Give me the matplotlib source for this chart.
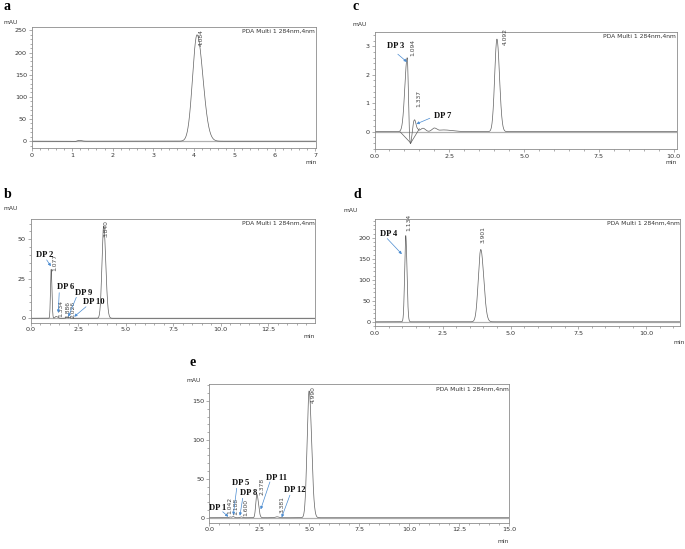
import numpy as np
import matplotlib
matplotlib.use("Agg")
import matplotlib.pyplot as plt
from matplotlib.ticker import MultipleLocator, FormatStrFormatter

W, H = 685, 549

# ---------------- data ----------------
# panel a
a_rt = [1.05, 1.17, 4.084]
a_h = [-1.2, 2.0, 240.0]
a_sl = [0.05, 0.05, 0.11]
a_sr = [0.05, 0.06, 0.145]
a_labels = ["4.084"]

# panel b
b_rt = [1.077, 1.334, 1.886, 2.026, 3.840]
b_h = [31.0, 1.2, 0.5, 0.5, 58.5]
b_sl = [0.035, 0.05, 0.05, 0.05, 0.09]
b_sr = [0.04, 0.08, 0.05, 0.05, 0.11]
b_labels = ["1.077", "1.334", "1.886", "2.026", "3.840"]

# panel c
c_rt = [1.094, 1.20, 1.337, 1.45, 1.62, 2.0, 2.3, 4.092]
c_h = [2.6, -0.48, 0.42, 0.05, 0.12, 0.12, 0.06, 3.25]
c_sl = [0.08, 0.035, 0.06, 0.03, 0.08, 0.08, 0.15, 0.075]
c_sr = [0.035, 0.045, 0.05, 0.03, 0.08, 0.08, 0.3, 0.085]
c_labels = ["1.094", "1.337", "4.092"]
c_base_x = [0.85, 1.21, 1.50]
c_base_y = [0.0, -0.40, 0.10]

# panel d
d_rt = [1.134, 3.901]
d_h = [205.0, 172.0]
d_sl = [0.04, 0.09]
d_sr = [0.045, 0.11]
d_labels = ["1.134", "3.901"]

# panel e
e_rt = [1.042, 1.188, 1.600, 2.378, 3.381, 4.990]
e_h = [1.0, 1.5, 1.0, 30.0, 1.2, 163.0]
e_sl = [0.04, 0.04, 0.05, 0.055, 0.08, 0.10]
e_sr = [0.05, 0.05, 0.06, 0.08, 0.1, 0.125]
e_labels = ["1.042", "1.188", "1.600", "2.378", "3.381", "4.990"]

TRACE = "#606060"
SPINE = "#8c8c8c"
BLUE = "#4a8bd0"
TXT = "#333333"


def trace(t, rt, h, sl, sr):
    y = np.zeros_like(t)
    for r, hh, s1, s2 in zip(rt, h, sl, sr):
        s = np.where(t < r, s1, s2)
        y += hh * np.exp(-0.5 * ((t - r) / s) ** 2)
    return y


def fr(x0, y0, x1, y1):
    return [x0 / W, 1 - y1 / H, (x1 - x0) / W, (y1 - y0) / H]


fig = plt.figure(figsize=(W / 100, H / 100), dpi=100)
fig.patch.set_facecolor("white")


def make_ax(box, xlim, ylim, xmaj, xmin, ymaj, ymin, xfmt):
    ax = fig.add_axes(fr(*box))
    ax.set_xlim(*xlim)
    ax.set_ylim(*ylim)
    ax.xaxis.set_major_locator(MultipleLocator(xmaj))
    ax.xaxis.set_minor_locator(MultipleLocator(xmin))
    ax.yaxis.set_major_locator(MultipleLocator(ymaj))
    ax.yaxis.set_minor_locator(MultipleLocator(ymin))
    ax.xaxis.set_major_formatter(FormatStrFormatter(xfmt))
    ax.yaxis.set_major_formatter(FormatStrFormatter("%d"))
    for s in ax.spines.values():
        s.set_color(SPINE)
        s.set_linewidth(0.6)
    ax.tick_params(which="both", direction="out", color=SPINE, width=0.5,
                   labelsize=4.6, labelcolor=TXT, pad=1.2)
    ax.tick_params(which="major", length=2.2)
    ax.tick_params(which="minor", length=1.3)
    ax.text(0.998, 0.985, "PDA Multi 1 284nm,4nm", transform=ax.transAxes,
            ha="right", va="top", fontsize=4.3, color=TXT)
    return ax


def plot_trace(ax, rt, h, sl, sr, xmax):
    t = np.linspace(0, xmax, 4000)
    ax.axhline(0, color="#b0b0b0", lw=0.9, zorder=1)
    ax.plot(t, trace(t, rt, h, sl, sr), color=TRACE, lw=0.5, zorder=2)


def peak_label(ax, x, y, s):
    ax.text(x, y, s, rotation=90, ha="center", va="center", fontsize=4.3,
            color="#444444", clip_on=False)


def dp(ax, text_xy, tail, tip, s):
    ax.text(text_xy[0], text_xy[1], s, ha="center", va="center",
            fontsize=6.2, fontweight="bold", family="Liberation Serif",
            color="#111111")
    ax.annotate("", xy=tip, xytext=tail,
                arrowprops=dict(arrowstyle="-|>", color=BLUE, lw=0.5,
                                mutation_scale=4, shrinkA=0, shrinkB=0))


def frame_text(letter, lx, ly, mx, my, nx, ny):
    fig.text(lx / W, 1 - ly / H, letter, fontsize=10, fontweight="bold",
             family="Liberation Serif", ha="left", va="center")
    fig.text(mx / W, 1 - my / H, "mAU", fontsize=4.3, color=TXT,
             ha="left", va="center")
    fig.text(nx / W, 1 - ny / H, "min", fontsize=4.3, color=TXT,
             ha="left", va="center")


# ---------------- panel a ----------------
ax = make_ax((31.7, 27.3, 315.5, 148.3), (0, 7.01), (-16, 257), 1, 0.2, 50, 10, "%d")
plot_trace(ax, a_rt, a_h, a_sl, a_sr, 7.01)
peak_label(ax, 4.18, 233, a_labels[0])
frame_text("a", 3, 6, 4, 22.7, 305, 163)

# ---------------- panel c ----------------
ax = make_ax((374.5, 32, 676.7, 149), (0, 10.1), (-0.61, 3.5), 2.5, 0.5, 1, 0.2, "%.1f")
plot_trace(ax, c_rt, c_h, c_sl, c_sr, 10.1)
ax.plot(c_base_x, c_base_y, color=TRACE, lw=0.5, zorder=2)
peak_label(ax, 1.28, 2.96, c_labels[0])
peak_label(ax, 1.49, 1.17, c_labels[1])
peak_label(ax, 4.37, 3.33, c_labels[2])
dp(ax, (0.70, 3.0), (0.78, 2.72), (1.08, 2.45), "DP 3")
dp(ax, (2.28, 0.55), (1.85, 0.47), (1.40, 0.27), "DP 7")
frame_text("c", 353, 6, 353, 24, 665, 163)

# ---------------- panel b ----------------
ax = make_ax((30.7, 219.3, 315, 322.7), (0, 14.96), (-2.8, 62.7), 2.5, 0.5, 25, 5, "%.1f")
plot_trace(ax, b_rt, b_h, b_sl, b_sr, 14.96)
peak_label(ax, 1.25, 35.5, b_labels[0])
peak_label(ax, 1.59, 6.5, b_labels[1])
peak_label(ax, 1.95, 5.3, b_labels[2])
peak_label(ax, 2.21, 5.4, b_labels[3])
peak_label(ax, 3.96, 57.0, b_labels[4])
dp(ax, (0.74, 40.0), (0.84, 37.0), (1.06, 33.0), "DP 2")
dp(ax, (1.85, 19.6), (1.50, 16.2), (1.45, 3.5), "DP 6")
dp(ax, (2.79, 15.8), (2.40, 13.3), (1.98, 1.0), "DP 9")
dp(ax, (3.32, 10.3), (2.91, 7.3), (2.29, 1.0), "DP 10")
frame_text("b", 4, 195, 3.3, 208.3, 303, 336)

# ---------------- panel d ----------------
ax = make_ax((375, 219.3, 680, 326), (0, 11.25), (-10, 243.8), 2.5, 0.5, 50, 10, "%.1f")
plot_trace(ax, d_rt, d_h, d_sl, d_sr, 11.25)
peak_label(ax, 1.23, 236, d_labels[0])
peak_label(ax, 3.99, 207, d_labels[1])
dp(ax, (0.49, 210), (0.45, 198), (0.99, 161), "DP 4")
frame_text("d", 354, 195, 344, 210.7, 673, 342)

# ---------------- panel e ----------------
ax = make_ax((209.3, 384.3, 509.3, 522.7), (0, 15.0), (-6.4, 171.5), 2.5, 0.5, 50, 10, "%.1f")
plot_trace(ax, e_rt, e_h, e_sl, e_sr, 15.0)
peak_label(ax, 1.00, 16.4, e_labels[0])
peak_label(ax, 1.34, 15.0, e_labels[1])
peak_label(ax, 1.84, 13.0, e_labels[2])
peak_label(ax, 2.62, 40.0, e_labels[3])
peak_label(ax, 3.62, 16.4, e_labels[4])
peak_label(ax, 5.20, 158.0, e_labels[5])
dp(ax, (0.41, 12.0), (0.67, 7.7), (0.95, 1.3), "DP 1")
dp(ax, (1.58, 44.0), (1.37, 37.8), (1.20, 3.5), "DP 5")
dp(ax, (1.98, 31.3), (1.67, 25.0), (1.53, 2.6), "DP 8")
dp(ax, (3.36, 50.6), (3.03, 46.0), (2.57, 10.8), "DP 11")
dp(ax, (4.28, 35.6), (4.03, 29.0), (3.62, 0.5), "DP 12")
frame_text("e", 189, 363, 186.7, 381, 498, 541.7)

fig.savefig("out.png", dpi=100, facecolor="white")
